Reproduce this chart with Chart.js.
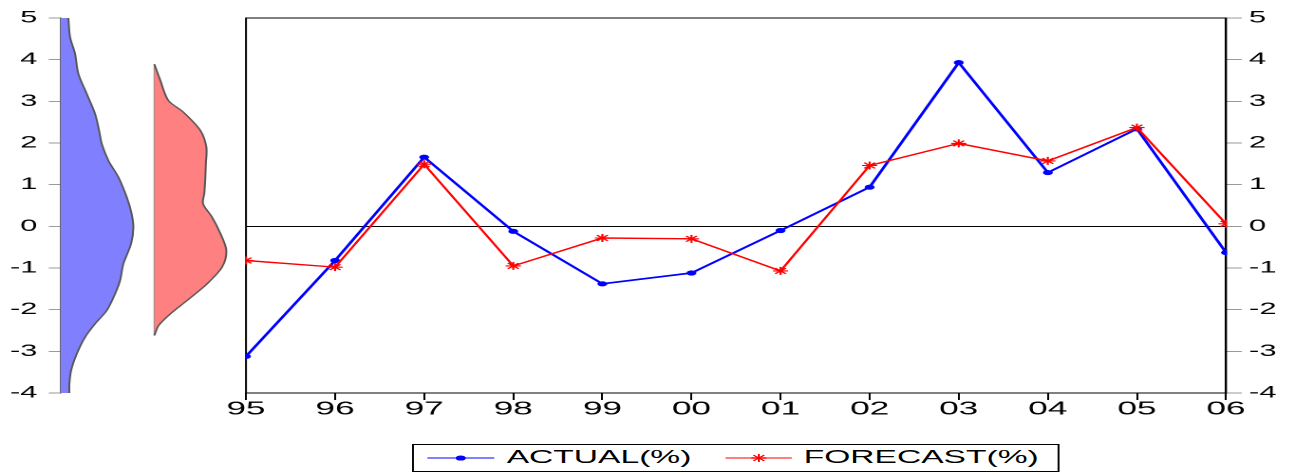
<!DOCTYPE html>
<html>
<head>
<meta charset="utf-8">
<title>Actual vs forecast</title>
<script src="https://cdn.jsdelivr.net/npm/chart.js@4.4.1/dist/chart.umd.min.js"></script>
<style>
  html, body { margin:0; padding:0; background:#fff; overflow:hidden; }
  /* the original graph is stretched sideways, so draw narrow and scale it out */
  #stage { position:absolute; left:0; top:0; width:682px; height:474px;
           transform:scaleX(1.8988); transform-origin:0 0;
           font-family:"Liberation Sans", Arial, sans-serif; }
  #densCanvas { position:absolute; left:0; top:0; }
  #mainCanvas { position:absolute; left:110px; top:0; }
  #legend { position:absolute; left:217.35px; top:444px; width:340.4px; height:28px;
            box-sizing:border-box; border:1px solid #000; background:#fff; }
  #legend svg, #legend span { position:absolute; }
  #legend span { font-size:17.7px; line-height:26px; top:-1px; color:#000; white-space:nowrap; }
</style>
</head>
<body>
<div id="stage">
  <canvas id="densCanvas" width="125" height="474"></canvas>
  <canvas id="mainCanvas" width="572" height="474"></canvas>
  <div id="legend"></div>
</div>
<script>
/**** actual vs forecast, with kernel densities on the left ****/

// data
const years    = ["95","96","97","98","99","00","01","02","03","04","05","06"];
const actual   = [-3.12,-0.82,1.66,-0.12,-1.38,-1.12,-0.10,0.94,3.93,1.29,2.34,-0.63];
const forecast = [-0.82,-0.98,1.49,-0.95,-0.28,-0.30,-1.07,1.46,1.99,1.57,2.37,0.06];
const seriesNames = ["ACTUAL(%)","FORECAST(%)"];
const yMin = -4, yMax = 5, yStep = 1;

// density of each series
const actualDensLevels = [5,4.54,4.14,3.66,3.18,2.70,2.30,1.98,1.58,1.18,0.70,0.34,-0.02,-0.42,-0.90,-1.30,-1.62,-2.02,-2.34,-2.66,-3.06,-3.46,-3.78,-4];
const actualDens       = [0.076,0.093,0.143,0.176,0.26,0.343,0.383,0.41,0.476,0.576,0.66,0.705,0.726,0.703,0.626,0.593,0.543,0.46,0.343,0.243,0.16,0.103,0.086,0.086];
const forecastDensLevels = [3.89,3.5,3.02,2.74,2.30,1.90,1.50,1.18,0.80,0.54,0.22,-0.17,-0.58,-0.98,-1.38,-1.78,-2.10,-2.38,-2.62];
const forecastDens       = [0,0.06,0.14,0.29,0.46,0.52,0.515,0.51,0.50,0.487,0.577,0.66,0.72,0.677,0.527,0.327,0.16,0.043,0];

// layout (unstretched px)
const FONT = '"Liberation Sans", Arial, sans-serif';
const BLUE = "#0000ff", RED = "#ff0000";
const densLeft = 32, densPxPerUnit = 52.66, densCanvasW = 125;
const redBase = 0.936;             // where the second density panel starts
const plotLeftPad = 19.55, rightAxisW = 36.33;
const plotTop = 18, plotBottomGap = 81;

Chart.defaults.font.family = FONT;

// box round the plot area
const frame = {
  id: "frame",
  beforeDatasetsDraw(chart) {
    const {ctx, chartArea: a} = chart;
    ctx.save();
    ctx.strokeStyle = "#000";
    ctx.lineWidth = 1;
    ctx.strokeRect(a.left, a.top, a.right - a.left, a.bottom - a.top);
    ctx.restore();
  }
};

// side densities
new Chart(document.getElementById("densCanvas"), {
  type: "line",
  data: {
    datasets: [
      { data: actualDensLevels.map((v,i)=>({x: actualDens[i], y: v})),
        borderColor:"#555", borderWidth:1, backgroundColor:"#8080ff",
        fill:{value:0}, pointRadius:0, tension:0.3 },
      { data: forecastDensLevels.map((v,i)=>({x: redBase + forecastDens[i], y: v})),
        borderColor:"#555", borderWidth:1, backgroundColor:"#ff8080",
        fill:{value:redBase}, pointRadius:0, tension:0.3 },
      { data: [{x:redBase, y:forecastDensLevels[0]}, {x:redBase, y:forecastDensLevels[forecastDensLevels.length-1]}],
        borderColor:"#888", borderWidth:0.8, pointRadius:0, fill:false }
    ]
  },
  options: {
    indexAxis: "y", responsive:false, animation:false, devicePixelRatio:2,
    layout: {padding:{top:plotTop, bottom:plotBottomGap, left:0, right:0}},
    plugins: {legend:{display:false}, tooltip:{enabled:false}},
    scales: {
      x: {type:"linear", min:0, max:(densCanvasW - densLeft)/densPxPerUnit, display:false},
      y: {type:"linear", position:"left", min:yMin, max:yMax,
          ticks:{stepSize:yStep, color:"#000", font:{size:16.3}, padding:6},
          grid:{drawOnChartArea:false, tickLength:6.3, tickColor:"#999"},
          border:{color:"#666", width:1},
          afterFit: s => { s.width = densLeft; }}
    }
  }
});

// main chart
const mainChart = new Chart(document.getElementById("mainCanvas"), {
  type: "line",
  data: {
    labels: years,
    datasets: [
      { label:seriesNames[0], data:actual, borderColor:BLUE, backgroundColor:BLUE,
        borderWidth:1.7, pointStyle:"circle", pointRadius:2.6, pointBorderWidth:0,
        pointBackgroundColor:BLUE, tension:0, order:1, clip:0.5 },
      { label:seriesNames[1], data:forecast, borderColor:RED, backgroundColor:RED,
        borderWidth:1.4, pointStyle:"star", pointRadius:4, pointBorderWidth:1.1,
        pointBorderColor:RED, tension:0, order:0, clip:0.5 }
    ]
  },
  options: {
    responsive:false, animation:false, devicePixelRatio:2,
    layout: {padding:{left:plotLeftPad, top:plotTop, right:0, bottom:0}},
    plugins: {legend:{display:false}, tooltip:{enabled:false}},
    scales: {
      x: {grid:{drawOnChartArea:false, tickLength:7, tickColor:"#000"},
          border:{color:"#000"},
          ticks:{color:"#000", font:{size:18.5}, padding:-1.5, maxRotation:0, autoSkip:false},
          afterFit: s => { s.height = plotBottomGap; }},
      y: {position:"right", min:yMin, max:yMax,
          ticks:{stepSize:yStep, color:"#000", font:{size:16.3}, padding:3.85},
          grid:{color: c => (c.tick && c.tick.value === 0) ? "#000" : "rgba(0,0,0,0)",
                tickColor:"#999", tickLength:8.27},
          border:{color:"#000"},
          afterFit: s => { s.width = rightAxisW; }}
    }
  },
  plugins: [frame]
});

// legend (html, boxed like the original)
const legend = document.getElementById("legend");
const itemX = [7.05, 163.45];      // sample line left edge for each item
mainChart.data.datasets.forEach((ds, i) => {
  const x0 = itemX[i], c = ds.borderColor;
  const mark = ds.pointStyle === "star"
    ? `<g stroke="${c}" stroke-width="1"><line x1="13.65" y1="5" x2="21.65" y2="5"/><line x1="17.65" y1="1" x2="17.65" y2="9"/><line x1="14.8" y1="2.2" x2="20.5" y2="7.8"/><line x1="14.8" y1="7.8" x2="20.5" y2="2.2"/></g>`
    : `<circle cx="17.65" cy="5" r="2.6" fill="${c}"/>`;
  legend.insertAdjacentHTML("beforeend",
    `<svg style="left:${x0}px;top:7.7px" width="35.3" height="10"><line x1="0" y1="5" x2="35.3" y2="5" stroke="${c}" stroke-width="1"/>${mark}</svg>` +
    `<span style="left:${x0 + 41.45}px">${ds.label}</span>`);
});
</script>
</body>
</html>
